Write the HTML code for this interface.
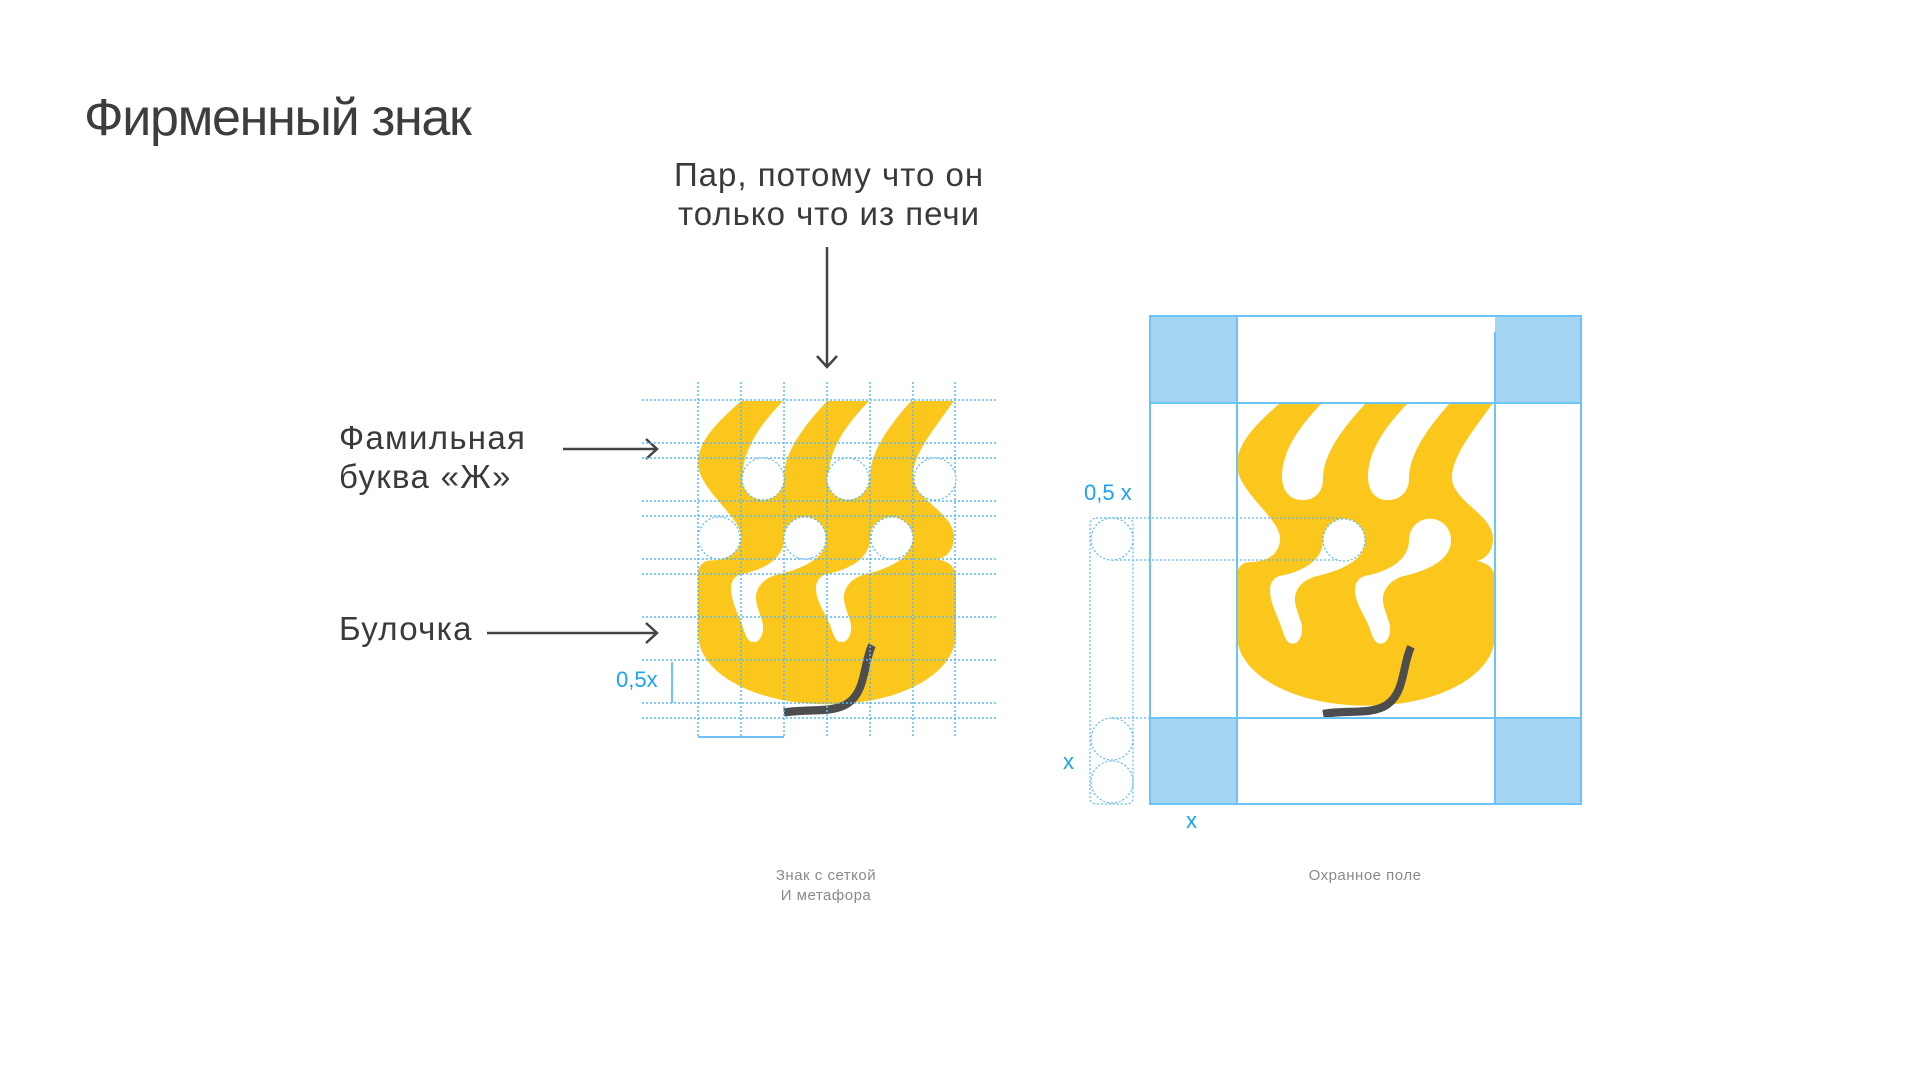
<!DOCTYPE html>
<html><head><meta charset="utf-8"><style>
html,body{margin:0;padding:0;background:#fff;}
body{width:1920px;height:1080px;position:relative;overflow:hidden;font-family:"Liberation Sans","DejaVu Sans",sans-serif;}
.t{position:absolute;color:#3a3a3a;white-space:nowrap;}
</style></head><body>
<div class="t" style="left:84px;top:88px;font-size:52px;letter-spacing:-1.3px;color:#3d3d3d;">Фирменный знак</div>
<div class="t" style="left:579px;top:155px;width:500px;text-align:center;font-size:33px;line-height:39px;letter-spacing:1px;">Пар, потому что он<br>только что из печи</div>
<div class="t" style="left:339px;top:418px;font-size:33px;line-height:39px;letter-spacing:1.3px;">Фамильная<br>буква «Ж»</div>
<div class="t" style="left:339px;top:609px;font-size:33px;line-height:39px;letter-spacing:1.3px;">Булочка</div>
<div class="t" style="left:726px;top:866px;width:200px;text-align:center;font-size:15px;line-height:20px;color:#8a8a8a;letter-spacing:0.5px;">Знак с сеткой<br>И метафора</div>
<div class="t" style="left:1265px;top:866px;width:200px;text-align:center;font-size:15px;line-height:20px;color:#8a8a8a;letter-spacing:0.5px;">Охранное поле</div>
<div class="t" style="left:616px;top:667px;font-size:22px;color:#1aa3f0;">0,5x</div>
<div class="t" style="left:1084px;top:480px;font-size:22px;color:#1aa3f0;">0,5 x</div>
<div class="t" style="left:1063px;top:749px;font-size:22px;color:#1aa3f0;">x</div>
<div class="t" style="left:1186px;top:808px;font-size:22px;color:#1aa3f0;">x</div>
<svg width="1920" height="1080" style="position:absolute;left:0;top:0" xmlns="http://www.w3.org/2000/svg">
<defs>
<g id="logo">
<path fill="#FCC71C" d="M43,0 L256,0 C235,28 215,52 215,72 C215,95 256,108 256,131 C256,143 250,150 240,153 C250,155 258,160 258,170 L258,225 C258,262 205,293 130,293 C55,293 0,262 0,225 L0,168 C0,158 6,154 14,154 C35,153 43,143 43,131 C43,112 0,85 0,60 C0,38 20,20 43,0 Z"/>
<path fill="#fff" d="M85,0 L129,0 C105,25 86,50 86,73 C86,86 78,94 66,94 C54,94 45,86 45,71 C45,45 65,20 85,0 Z"/>
<path fill="#fff" d="M171,0 L213,0 C190,25 172,50 172,73 C172,86 163,94 151,94 C139,94 131,86 131,71 C131,45 151,20 171,0 Z"/>
<path fill="#fff" d="M107,112 C119,112 128,121 128,133 C128,150 110,161 78,168 C64,172 57,182 58,192 C60,205 66,212 65,221 C64,229 60,233 56,233 C51,233 49,230 46,222 C42,208 33,195 33,181 C33,173 38,168 45,167 C70,162 86,150 86,133 C86,121 95,112 107,112 Z"/>
<path fill="#fff" d="M193,112 C205,112 214,121 214,133 C214,150 196,161 165,168 C152,172 145,182 146,192 C148,205 154,212 153,221 C152,229 148,233 144,233 C139,233 137,230 134,222 C130,208 118,195 118,181 C118,173 123,168 130,167 C155,162 172,150 172,133 C172,121 181,112 193,112 Z"/>
<path fill="none" stroke="#4d4d4d" stroke-width="8" d="M174,236 C165,255 168,280 150,292 C135,302 110,297 86,301"/>
</g>
</defs>
<g stroke="#444" stroke-width="2.5" fill="none">
<line x1="827" y1="247" x2="827" y2="367"/><polyline points="817,356 827,367 837,356"/>
<line x1="563" y1="449" x2="657" y2="449"/><polyline points="646,439 657,449 646,459"/>
<line x1="487" y1="633" x2="657" y2="633"/><polyline points="646,623 657,633 646,643"/>
</g>
<g transform="translate(698,401) scale(1,1.035)"><use href="#logo"/></g>
<g stroke="#5ab8f5" stroke-width="1.5" stroke-dasharray="2,2" fill="none">
<line x1="698" y1="382" x2="698" y2="737"/><line x1="741" y1="382" x2="741" y2="737"/><line x1="784" y1="382" x2="784" y2="737"/><line x1="827" y1="382" x2="827" y2="737"/><line x1="870" y1="382" x2="870" y2="737"/><line x1="913" y1="382" x2="913" y2="737"/><line x1="955" y1="382" x2="955" y2="737"/>
<line x1="642" y1="400" x2="998" y2="400"/><line x1="642" y1="443" x2="998" y2="443"/><line x1="642" y1="458" x2="998" y2="458"/><line x1="642" y1="501" x2="998" y2="501"/><line x1="642" y1="516" x2="998" y2="516"/><line x1="642" y1="559" x2="998" y2="559"/><line x1="642" y1="574" x2="998" y2="574"/><line x1="642" y1="617" x2="998" y2="617"/><line x1="642" y1="660" x2="998" y2="660"/><line x1="642" y1="703" x2="998" y2="703"/><line x1="642" y1="718" x2="998" y2="718"/>
</g>
<g fill="#fff" stroke="#5ab8f5" stroke-width="1.2" stroke-dasharray="2,2">
<circle cx="763" cy="479" r="21"/><circle cx="848" cy="479" r="21"/><circle cx="935" cy="479" r="21"/>
<circle cx="719" cy="538" r="21"/><circle cx="805" cy="538" r="21"/><circle cx="892" cy="538" r="21"/>
</g>
<g stroke="#6cc3f7" stroke-width="2"><line x1="698" y1="737" x2="784" y2="737"/><line x1="672" y1="662" x2="672" y2="703"/></g>
<g fill="#A5D5F2"><rect x="1150" y="316" width="87" height="87"/><rect x="1495" y="316" width="86" height="87"/><rect x="1150" y="718" width="87" height="86"/><rect x="1495" y="718" width="86" height="86"/></g>
<g transform="translate(1237,403) scale(1,1.033)"><use href="#logo"/></g>
<g stroke="#6cc3f7" stroke-width="2" fill="none">
<rect x="1150" y="316" width="431" height="488"/>
<line x1="1237" y1="316" x2="1237" y2="804"/><line x1="1495" y1="332" x2="1495" y2="804"/>
<line x1="1150" y1="403" x2="1581" y2="403"/><line x1="1150" y1="718" x2="1581" y2="718"/>
</g>
<g stroke="#5ab8f5" stroke-width="1.2" stroke-dasharray="2,2" fill="none">
<rect x="1090" y="518" width="43" height="286" rx="6"/>
<line x1="1112" y1="518" x2="1344" y2="518"/><line x1="1112" y1="560" x2="1344" y2="560"/>
<line x1="1112" y1="718" x2="1150" y2="718"/>
<circle cx="1112" cy="539" r="21" fill="#fff"/><circle cx="1112" cy="739" r="21"/><circle cx="1112" cy="782" r="21"/>
<circle cx="1344" cy="540" r="21" fill="#fff"/>
</g>
</svg>
</body></html>
